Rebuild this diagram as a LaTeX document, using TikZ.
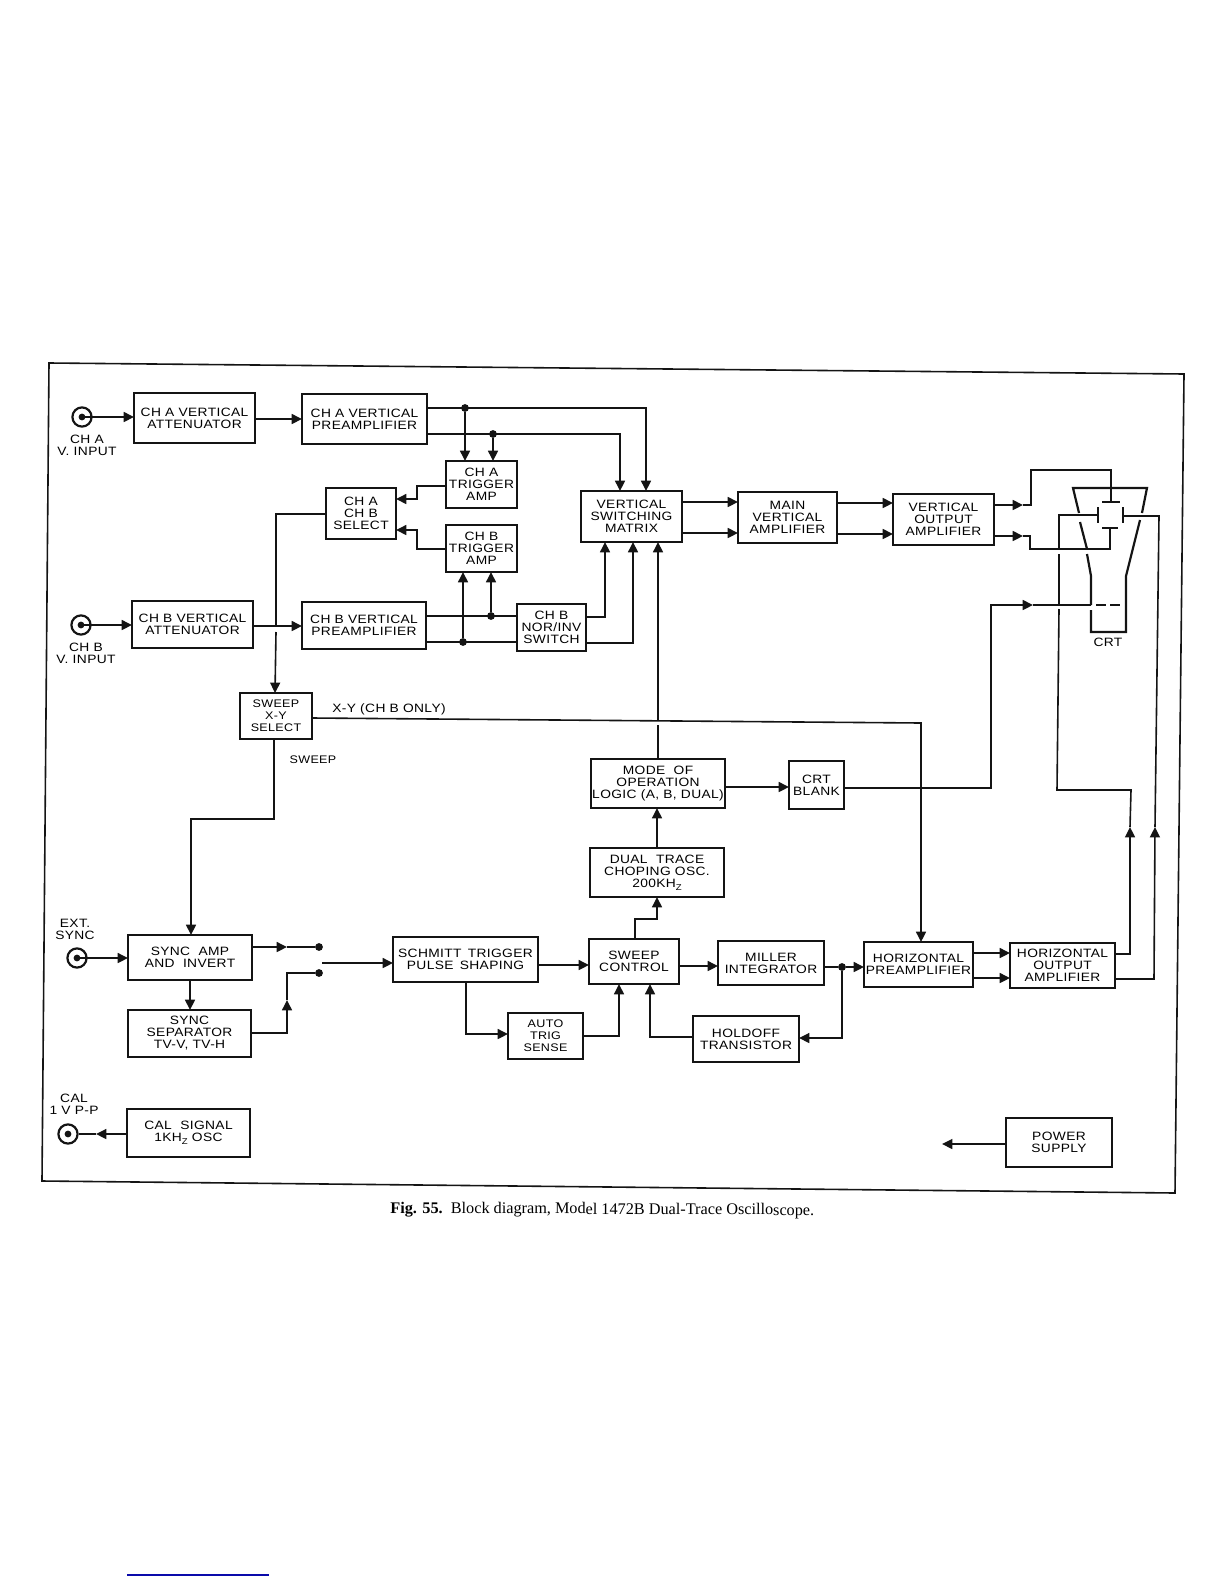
\documentclass[tikz,border=0pt]{standalone}
\usepackage{fontspec}
\setmainfont[FakeStretch=1.14,LetterSpace=3]{Liberation Sans}
\newfontfamily\capfont{Liberation Serif}
\usetikzlibrary{arrows.meta}
\tikzset{
  ln/.style={line width=0.8pt,line join=miter,black!92},
  arr/.style={ln,-{Triangle[length=5.2pt,width=5pt]}},
  blk/.style={draw=black!92,line width=1.35pt,inner sep=0pt,outer sep=0pt,align=center,font=\fontsize{6.05}{6}\selectfont},
  lab/.style={inner sep=0pt,align=center,font=\fontsize{6.05}{6}\selectfont},
  dot/.style={circle,fill=black!92,inner sep=0pt,minimum size=3.9pt},
  jack/.style={circle,draw=black!92,line width=1.1pt,inner sep=0pt,minimum size=9.6pt},
  tube/.style={line width=1.1pt,black!92,line join=miter},
}
\newcommand\blkn[6]{\node[blk,minimum width={(#4-#2)*0.5pt},minimum height={(#5-#3)*0.5pt}] (#1) at ({(#2+#4)/2},{(#3+#5)/2}) {#6};}
\newcommand\jck[3]{\node[jack] (#1) at (#2,#3) {}; \node[dot,minimum size=3.4pt] at (#2,#3) {};}
\newcommand\subz{\raisebox{-1.3pt}{\fontsize{4.2}{4}\selectfont Z}}
\newcommand\smalltxt{\fontsize{5.5}{6}\selectfont}
\begin{document}
\begin{tikzpicture}[x=0.5pt,y=-0.5pt]
\useasboundingbox (0,0) rectangle (1224,1584);
% frame
\draw[line width=0.8pt,black!92] (49,363) -- (1184,374) -- (1175,1193) -- (42,1181) -- cycle;
% blocks
\blkn{attA}{134}{393}{255}{443}{CH A VERTICAL\\ATTENUATOR}
\blkn{preA}{302}{394}{427}{444}{CH A VERTICAL\\PREAMPLIFIER}
\blkn{attB}{132}{601}{253}{648}{CH B VERTICAL\\ATTENUATOR}
\blkn{preB}{302}{602}{426}{649}{CH B VERTICAL\\PREAMPLIFIER}
\blkn{trgA}{446}{461}{517}{508}{CH A\\TRIGGER\\AMP}
\blkn{trgB}{446}{525}{517}{572}{CH B\\TRIGGER\\AMP}
\blkn{sel}{326}{488}{396}{539}{CH A\\CH B\\SELECT}
\blkn{nor}{517}{604}{586}{651}{CH B\\NOR/INV\\SWITCH}
\blkn{vsm}{581}{491}{682}{542}{VERTICAL\\SWITCHING\\MATRIX}
\blkn{mva}{738}{492}{837}{543}{MAIN\\VERTICAL\\AMPLIFIER}
\blkn{voa}{893}{494}{994}{545}{VERTICAL\\OUTPUT\\AMPLIFIER}
\blkn{swp}{240}{693}{312}{739}{\smalltxt SWEEP\\\smalltxt X-Y\\\smalltxt SELECT}
\blkn{mode}{591}{759}{725}{808}{MODE\ \ OF\\OPERATION\\LOGIC (A, B, DUAL)}
\blkn{blank}{789}{761}{844}{809}{CRT\\BLANK}
\blkn{dual}{590}{848}{724}{897}{DUAL\ \ TRACE\\CHOPING OSC.\\200KH\subz}
\blkn{amp}{128}{935}{252}{980}{SYNC\ \ AMP\\AND\ \ INVERT}
\blkn{sep}{128}{1010}{251}{1057}{SYNC\\SEPARATOR\\TV-V, TV-H}
\blkn{cal}{127}{1109}{250}{1157}{CAL\ \ SIGNAL\\1KH\subz\ OSC}
\blkn{sch}{393}{937}{538}{982}{SCHMITT\ \,TRIGGER\\PULSE\ \,SHAPING}
\blkn{ctl}{589}{939}{679}{984}{SWEEP\\CONTROL}
\blkn{auto}{508}{1013}{583}{1059}{\smalltxt AUTO\\\smalltxt TRIG\\\smalltxt SENSE}
\blkn{mil}{718}{941}{824}{985}{MILLER\\INTEGRATOR}
\blkn{hold}{693}{1016}{799}{1062}{HOLDOFF\\TRANSISTOR}
\blkn{hpr}{864}{942}{973}{987}{HORIZONTAL\\PREAMPLIFIER}
\blkn{hop}{1010}{943}{1115}{988}{HORIZONTAL\\OUTPUT\\AMPLIFIER}
\blkn{psu}{1006}{1118}{1112}{1167}{POWER\\SUPPLY}
% jacks
\jck{jA}{82}{417}
\jck{jB}{81}{625}
\jck{jE}{77}{958}
\jck{jC}{68}{1134}
% labels
\node[lab] (lA) at (87,445.5) {CH A\\V. INPUT};
\node[lab] (lB) at (86,653) {CH B\\V. INPUT};
\node[lab] (lE) at (75,929) {EXT.\\SYNC};
\node[lab] (lC) at (74,1104.5) {CAL\\1 V P-P};
\node[lab] (lXY) at (389,709) {X-Y (CH B ONLY)};
\node[lab,font=\smalltxt] (lS) at (313,760) {SWEEP};
\node[lab] (lCRT) at (1108,642) {CRT};
% junctions
\node[dot] (d1) at (465,408) {};
\node[dot] (d2) at (493,434) {};
\node[dot] (d3) at (491,616) {};
\node[dot] (d4) at (463,642) {};
\node[dot] (d5) at (842,967) {};
\node[dot] (s1) at (319,947) {};
\node[dot] (s2) at (319,973) {};
% inputs
\draw[arr] (jA.center) -- (attA.west |- jA);
\draw[arr] (jB.center) -- (attB.west |- jB);
\draw[arr] (jE.center) -- (amp.west |- jE);
\coordinate (m0) at (96,1134);
\draw[arr] (cal.west |- jC) -- (m0);
\draw[ln] (m0) -- (jC.east);
\draw[arr] (attA.east |- 0,419) -- (preA.west |- 0,419);
\draw[arr] (attB.east |- 0,626) -- (preB.west |- 0,626);
% CH A preamp outputs
\draw[arr] (preA.east |- d1) -- (646,408) -- (vsm.north -| 646,0);
\draw[arr] (preA.east |- d2) -- (620,434) -- (vsm.north -| 620,0);
\draw[arr] (d1) -- (trgA.north -| d1);
\draw[arr] (d2) -- (trgA.north -| d2);
% trigger to select
\draw[arr] (trgA.west |- 0,486) -- (417,486) -- (417,499) -- (sel.east |- 0,499);
\draw[arr] (trgB.west |- 0,549) -- (417,549) -- (417,530) -- (sel.east |- 0,530);
% CH B preamp outputs
\draw[ln] (preB.east |- d3) -- (nor.west |- d3);
\draw[ln] (preB.east |- d4) -- (nor.west |- d4);
\draw[arr] (d3) -- (trgB.south -| d3);
\draw[arr] (d4) -- (trgB.south -| d4);
\draw[arr] (nor.east |- 0,617) -- (605,617) -- (vsm.south -| 605,0);
\draw[arr] (nor.east |- 0,643) -- (633,643) -- (vsm.south -| 633,0);
% select to sweep
\coordinate (g1) at (276,626);
\coordinate (g2) at (276,632);
\draw[ln] (sel.west |- 0,514) -- (276,514) -- (g1);
\draw[arr] (g2) -- (swp.north -| 275,0);
% sweep
\draw[arr] (swp.south -| 274,0) -- (274,819) -- (191,819) -- (amp.north -| 191,0);
\draw[arr] (swp.east |- 0,718) -- (921,723) -- (hpr.north -| 921,0);
% mode
\coordinate (g3) at (658,725);
\coordinate (g4) at (658,721);
\draw[ln] (mode.north -| g3) -- (g3);
\draw[arr] (g4) -- (vsm.south -| g4);
\draw[arr] (dual.north -| 657,0) -- (mode.south -| 657,0);
\draw[arr] (mode.east |- 0,787) -- (blank.west |- 0,787);
\draw[arr] (ctl.north -| 635,0) -- (635,919) -- (657,919) -- (dual.south -| 657,0);
% vertical chain
\draw[arr] (vsm.east |- 0,502) -- (mva.west |- 0,502);
\draw[arr] (vsm.east |- 0,533) -- (mva.west |- 0,533);
\draw[arr] (mva.east |- 0,503) -- (voa.west |- 0,503);
\draw[arr] (mva.east |- 0,534) -- (voa.west |- 0,534);
% sync
\draw[arr] (amp.south -| 190,0) -- (sep.north -| 190,0);
\coordinate (m1) at (287,947);
\draw[arr] (amp.east |- m1) -- (m1);
\draw[ln] (m1) -- (s1);
\coordinate (m2) at (287,1000);
\draw[arr] (sep.east |- 0,1033) -- (287,1033) -- (m2);
\draw[ln] (m2) -- (287,973) -- (s2);
\coordinate (s3) at (322,963);
\draw[arr] (s3) -- (sch.west |- s3);
% sweep generator
\draw[arr] (sch.east |- 0,965) -- (ctl.west |- 0,965);
\draw[arr] (sch.south -| 466,0) -- (466,1034) -- (auto.west |- 0,1034);
\draw[arr] (auto.east |- 0,1036) -- (619,1036) -- (ctl.south -| 619,0);
\draw[arr] (hold.west |- 0,1037) -- (650,1037) -- (ctl.south -| 650,0);
\draw[arr] (ctl.east |- 0,966) -- (mil.west |- 0,966);
\draw[ln] (mil.east |- d5) -- (d5);
\draw[arr] (d5) -- (hpr.west |- d5);
\draw[arr] (d5) -- (842,1038) -- (hold.east |- 0,1038);
\draw[arr] (hpr.east |- 0,953) -- (hop.west |- 0,953);
\draw[arr] (hpr.east |- 0,978) -- (hop.west |- 0,978);
% power
\coordinate (pw) at (942,1144);
\draw[arr] (psu.west |- pw) -- (pw);
% CRT tube
\draw[tube] (1079,513) -- (1073,488) -- (1147,488) -- (1142,513);
\draw[tube] (1080,522) -- (1087,549);
\draw[tube] (1087,554) -- (1091,576) -- (1091,605);
\draw[tube] (1091,610) -- (1091,632) -- (1126,632) -- (1126,576) -- (1140,520);
\draw[tube,dash pattern=on 5pt off 2pt] (1096,605) -- (1120,605);
\draw[tube] (1102,502) -- (1120,502);
\draw[tube] (1102,528) -- (1118,528);
\draw[tube] (1098,507) -- (1098,523);
\draw[tube] (1123,507) -- (1123,523);
% CRT leads
\coordinate (c1) at (1111,488);
\coordinate (a1) at (1023,505);
\draw[arr] (voa.east |- a1) -- (a1);
\draw[ln] (a1) -- (1031,505) -- (1031,470) -- (1111,470) -- (c1);
\draw[ln] (c1) -- (1111,502);
\coordinate (a2) at (1023,536);
\draw[arr] (voa.east |- a2) -- (a2);
\draw[ln] (a2) -- (1030,536) -- (1030,549) -- (1110,549) -- (1110,528);
% blank to grid
\coordinate (a3) at (1033,605);
\draw[arr] (blank.east |- 0,788) -- (991,788) -- (991,605) -- (a3);
\draw[ln] (a3) -- (1091,605);
% horizontal outputs to plates
\coordinate (a4) at (1130,827);
\coordinate (a5) at (1155,827);
\draw[arr] (hop.east |- 0,954) -- (1130,954) -- (a4);
\draw[ln] (a4) -- (1131,790) -- (1057,790) -- (1059,609);
\draw[ln] (1059,605) -- (1059,554);
\draw[ln] (1059,549) -- (1059,515) -- (1098,515);
\draw[arr] (hop.east |- 0,979) -- (1154,979) -- (a5);
\draw[ln] (a5) -- (1159,516) -- (1123,516);
% caption
\node[anchor=base west,inner sep=0pt,rotate=-0.3,font=\capfont\fontsize{8.12}{10}\selectfont] (cap) at (390,1213) {\textbf{Fig. 55.}\ \ Block diagram, Model 1472B Dual-Trace Oscilloscope.};
% rule
\coordinate (r1) at (127,1575);
\coordinate (r2) at (269,1575);
\definecolor{rulecol}{RGB}{10,10,170}
\draw[line width=0.7pt,rulecol] (r1) -- (r2);
\end{tikzpicture}
\end{document}
